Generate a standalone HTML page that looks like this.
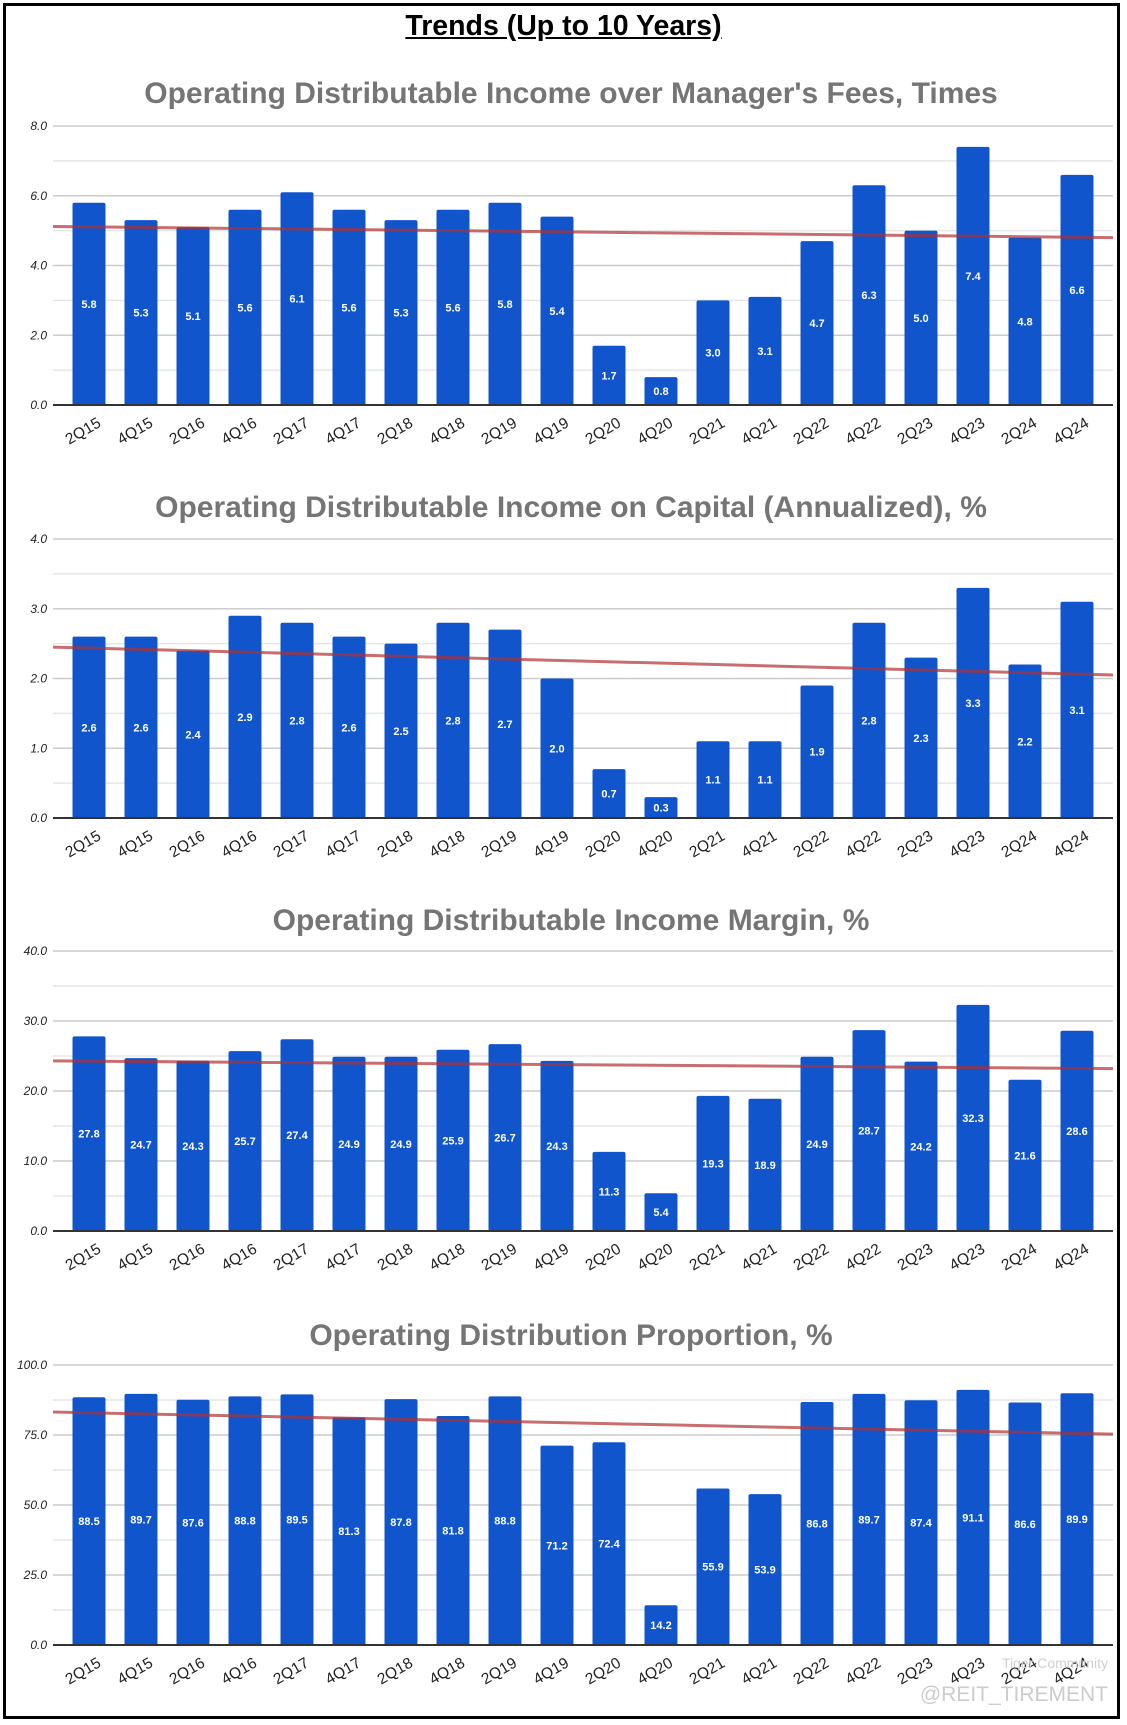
<!DOCTYPE html>
<html><head><meta charset="utf-8"><style>
html,body{margin:0;padding:0;background:#fff}
body{width:1127px;height:1725px;position:relative;overflow:hidden;font-family:"Liberation Sans",sans-serif}
#frame{position:absolute;left:3px;top:3px;width:1111px;height:1710px;border:3px solid #000}
#maintitle{position:absolute;left:0;width:1127px;top:10px;text-align:center;font-weight:bold;font-size:28.5px;text-decoration:underline;color:#000}
svg{position:absolute;left:0;top:0}
</style></head><body>
<div id="frame"></div>
<div id="maintitle">Trends (Up to 10 Years)</div>
<svg id="svg" width="1127" height="1725"></svg>
<script>
const categories=["2Q15","4Q15","2Q16","4Q16","2Q17","4Q17","2Q18","4Q18","2Q19","4Q19","2Q20","4Q20","2Q21","4Q21","2Q22","4Q22","2Q23","4Q23","2Q24","4Q24"];
const feesValues=[5.8,5.3,5.1,5.6,6.1,5.6,5.3,5.6,5.8,5.4,1.7,0.8,3.0,3.1,4.7,6.3,5.0,7.4,4.8,6.6];
const capitalValues=[2.6,2.6,2.4,2.9,2.8,2.6,2.5,2.8,2.7,2.0,0.7,0.3,1.1,1.1,1.9,2.8,2.3,3.3,2.2,3.1];
const marginValues=[27.8,24.7,24.3,25.7,27.4,24.9,24.9,25.9,26.7,24.3,11.3,5.4,19.3,18.9,24.9,28.7,24.2,32.3,21.6,28.6];
const proportionValues=[88.5,89.7,87.6,88.8,89.5,81.3,87.8,81.8,88.8,71.2,72.4,14.2,55.9,53.9,86.8,89.7,87.4,91.1,86.6,89.9];
const feesTicks=["0.0","2.0","4.0","6.0","8.0"];
const capitalTicks=["0.0","1.0","2.0","3.0","4.0"];
const marginTicks=["0.0","10.0","20.0","30.0","40.0"];
const proportionTicks=["0.0","25.0","50.0","75.0","100.0"];
const feesTrend=[5.12,4.8];
const capitalTrend=[2.45,2.05];
const marginTrend=[24.3,23.2];
const proportionTrend=[83.2,75.3];

const NS="http://www.w3.org/2000/svg";
const svg=document.getElementById('svg');
function mk(tag,attrs,parent){const e=document.createElementNS(NS,tag);for(const k in attrs)e.setAttribute(k,attrs[k]);(parent||svg).appendChild(e);return e;}

const charts=[
 {name:"fees",title:"Operating Distributable Income over Manager's Fees, Times",titleY:103,top:126,base:405,max:8,ticks:feesTicks,vals:feesValues,trend:feesTrend},
 {name:"capital",title:"Operating Distributable Income on Capital (Annualized), %",titleY:517,top:539,base:818,max:4,ticks:capitalTicks,vals:capitalValues,trend:capitalTrend},
 {name:"margin",title:"Operating Distributable Income Margin, %",titleY:930,top:951,base:1231,max:40,ticks:marginTicks,vals:marginValues,trend:marginTrend},
 {name:"proportion",title:"Operating Distribution Proportion, %",titleY:1345,top:1365,base:1645,max:100,ticks:proportionTicks,vals:proportionValues,trend:proportionTrend}
];
const L=53,R=1113;
function xc(i){return 89+i*52;}
charts.forEach(c=>{
  const g=mk('g',{});
  
  
  const y=v=>c.base-(v/c.max)*(c.base-c.top);
  const t=mk('text',{x:571,y:c.titleY,'text-anchor':'middle','font-size':30,'font-weight':'bold',fill:'#757575'},g);
  t.textContent=c.title;
  
  
  const n=c.ticks.length-1;
  for(let k=0;k<=n*2;k++){
    const v=c.max*k/(n*2);
    const gl=mk('line',{x1:L,x2:R,y1:y(v),y2:y(v),stroke:k%2?'#e6e6e6':'#cccccc','stroke-width':1.5},g);
    
    
  }
  c.ticks.forEach((lab,k)=>{
    const tt=mk('text',{x:L-6,y:y(c.max*k/n)+4,'text-anchor':'end','font-size':12,'font-style':'italic',fill:'#222'},g);
    tt.textContent=lab;
    
    
  });
  c.vals.forEach((v,i)=>{
    const b=mk('rect',{x:xc(i)-16.5,y:y(v),width:33,height:c.base-y(v),fill:'#1155cc',rx:2},g);
    
    
    const lt=mk('text',{x:xc(i),y:(y(v)+c.base)/2+4,'text-anchor':'middle','font-size':11,'font-weight':'bold',fill:'#fff'},g);
    lt.textContent=v.toFixed(1);
    
    
    const cx=xc(i)-6, cy=c.base+26;
    const xl=mk('text',{x:cx,y:cy+5,'text-anchor':'middle','font-size':15.5,fill:'#222',transform:`rotate(-30 ${cx} ${cy})`},g);
    xl.textContent=categories[i];
    
    
  });
  const tl=mk('line',{x1:L,x2:R,y1:y(c.trend[0]),y2:y(c.trend[1]),stroke:'#b03030','stroke-opacity':0.7,'stroke-width':3},g);
  
  
  const ax=mk('line',{x1:L,x2:R,y1:c.base,y2:c.base,stroke:'#333','stroke-width':2},g);
  
  
});
const wm=mk('text',{x:1108,y:1701,'text-anchor':'end','font-size':21,fill:'#cccccc'});
wm.textContent='@REIT_TIREMENT';


const wm2=mk('text',{x:1108,y:1668,'text-anchor':'end','font-size':14,fill:'#d0d0d0'});
wm2.textContent='Tiger Community';


</script>
</body></html>
